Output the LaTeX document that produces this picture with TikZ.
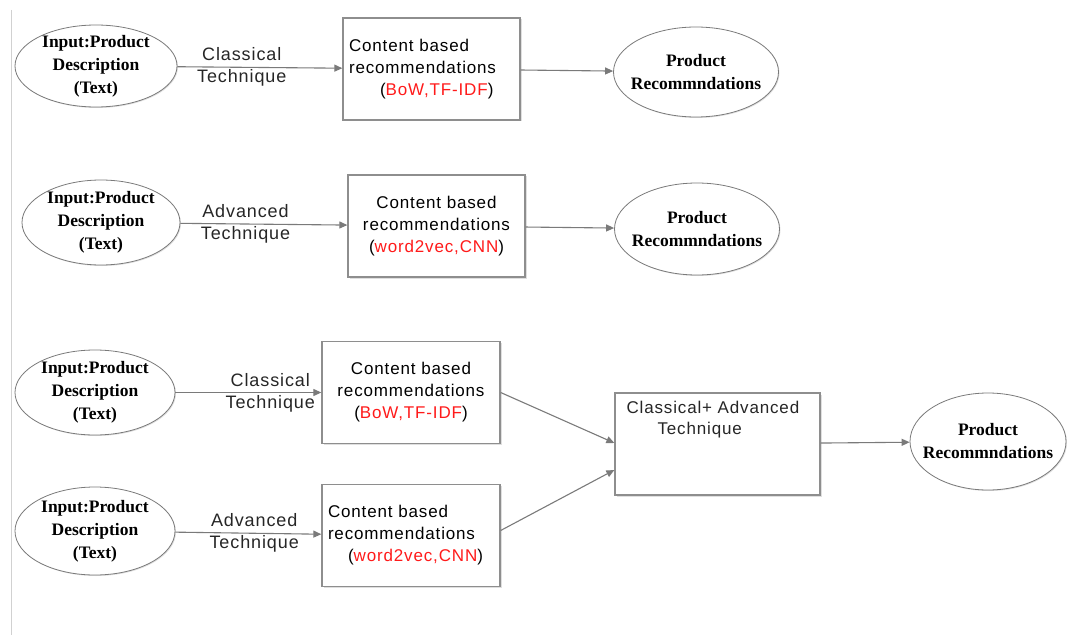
\documentclass[tikz,border=0pt]{standalone}
\usepackage{fontspec}
\setmainfont{Liberation Serif}
\setsansfont{Liberation Sans}
\newfontfamily\lblfont[LetterSpace=5]{Liberation Sans}
\usetikzlibrary{arrows.meta,shapes.geometric,shadows}
\definecolor{lc}{HTML}{7A7A7A}
\definecolor{bc}{HTML}{8E8E8E}
\definecolor{rd}{HTML}{FF1A1A}
\tikzset{
  ell/.style={ellipse, draw=lc, line width=0.8pt, fill=white, inner xsep=-35pt, inner ysep=-25pt, align=center,
    font=\fontsize{17.5}{23}\selectfont\bfseries,
    drop shadow={shadow xshift=1pt, shadow yshift=-1pt, opacity=0.25}},
  box/.style={rectangle, draw=bc, line width=1.3pt, fill=white, inner sep=6pt, minimum height=102pt,
    font=\lblfont\fontsize{17}{22}\selectfont,
    drop shadow={shadow xshift=1.5pt, shadow yshift=-1.5pt, opacity=0.25}},
  conn/.style={draw=lc, line width=1.1pt, -{Triangle[length=8pt,width=7pt]}},
  lbl/.style={font=\lblfont\fontsize{18}{22}\selectfont, align=center, inner sep=0pt, text=black!85},
  btxt/.style={font=\lblfont\fontsize{17}{21}\selectfont, align=left, inner sep=0pt, text=black!85}
}
\newcommand{\rtxt}[1]{{\color{rd}#1}}
\begin{document}
\begin{tikzpicture}[x=1pt,y=-1pt]
\useasboundingbox (0,0) rectangle (1067,639);
\draw[black!18, line width=1pt] (11,10) -- (11,635);

% Row 1
\node[ell, minimum width=162pt, minimum height=82pt] (e1) at (96,66) {Input:Product\\Description\\(Text)};
\node[box, minimum width=177pt, text width=165pt, align=left] (b1) at (431.5,69)
  {Content based\\recommendations\\\hspace*{31pt}(\rtxt{BoW,TF-IDF})};
\node[ell, minimum width=165pt, minimum height=90pt] (e2) at (696,72) {Product\\Recommndations};
\draw[conn] (e1) -- (b1) node[lbl, pos=0.39] {Classical\\Technique};
\draw[conn] (b1) -- (e2);

% Row 2
\node[ell, minimum width=158pt, minimum height=85pt] (e3) at (101,222.5) {Input:Product\\Description\\(Text)};
\node[box, minimum width=177pt, text width=165pt, align=center] (b2) at (436.5,226)
  {Content based\\recommendations\\(\rtxt{word2vec,CNN})};
\node[ell, minimum width=165pt, minimum height=92pt] (e4) at (697,229) {Product\\Recommndations};
\draw[conn] (e3) -- (b2) node[lbl, pos=0.39] {Advanced\\Technique};
\draw[conn] (b2) -- (e4);

% Row 3 / 4
\node[ell, minimum width=160pt, minimum height=85pt] (e5) at (95,392.5) {Input:Product\\Description\\(Text)};
\node[box, minimum width=178pt, text width=166pt, align=center] (b3) at (411,392.5)
  {Content based\\recommendations\\(\rtxt{BoW,TF-IDF})};
\node[ell, minimum width=160pt, minimum height=88pt] (e7) at (95,531) {Input:Product\\Description\\(Text)};
\node[box, minimum width=178pt, text width=166pt, align=left] (b4) at (411,535.5)
  {Content based\\recommendations\\\hspace*{20pt}(\rtxt{word2vec,CNN})};
\node[box, minimum width=205pt, minimum height=102pt] (b5) at (717.5,444) {};
\node[btxt, anchor=north west] (t5) at ([xshift=12pt,yshift=-9pt]b5.north west)
  {Classical+ Advanced\\\hspace*{31pt}Technique};
\node[ell, minimum width=156pt, minimum height=97pt] (e6) at (988,441.5) {Product\\Recommndations};

\draw[conn] (e5) -- (b3) node[lbl, pos=0.65] {Classical\\Technique};
\draw[conn] (e7) -- (b4) node[lbl, pos=0.54] {Advanced\\Technique};
\draw[conn] (b3.east) -- ([yshift=1pt]b5.west);
\draw[conn] ([yshift=5pt]b4.east) -- ([yshift=-26pt]b5.west);
\draw[conn] (b5) -- (e6);
\end{tikzpicture}
\end{document}
